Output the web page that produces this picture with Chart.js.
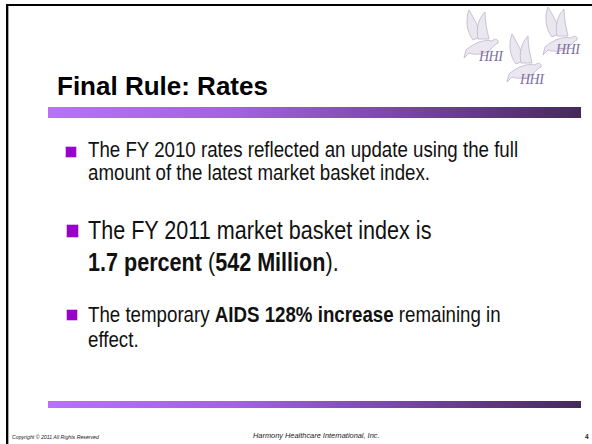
<!DOCTYPE html>
<html>
<head>
<meta charset="utf-8">
<script src="https://cdn.jsdelivr.net/npm/chart.js@4.4.0/dist/chart.umd.min.js"></script>
<style>
  html, body { margin: 0; padding: 0; background: #fff; }
  #slide { position: relative; width: 592px; height: 444px; overflow: hidden; background: #fff; }
  .frame-top { position: absolute; left: 6px; top: 4px; width: 600px; height: 2px; background: #000; }
  .frame-left { position: absolute; left: 6px; top: 4px; width: 2px; height: 460px; background: #000; }
  .frame-left2 { position: absolute; left: 8px; top: 6px; width: 1px; height: 460px; background: #aaa; }
  .title { position: absolute; left: 57px; top: 71px; font: bold 26px/30px "Liberation Sans", Arial, sans-serif; color: #000; white-space: nowrap; }
  .rule { position: absolute; left: 48px; }
  .item { position: absolute; left: 88px; color: #111; white-space: nowrap; transform-origin: 0 0;
          font-family: "Liberation Sans", Arial, sans-serif; }
  .item b { font-weight: bold; }
  .sq { position: absolute; background: #9900cc; box-shadow: 0 0 0 0.5px #c070e0; }
  .foot { position: absolute; font-family: "Liberation Sans", Arial, sans-serif; font-style: italic; color: #222; white-space: nowrap; }
  .logo { position: absolute; font-family: "Liberation Serif", "DejaVu Serif", serif; font-style: italic; color: #7d6fa0; font-size: 14px; letter-spacing: -0.5px; }
</style>
</head>
<body>
<div id="slide">
  <div class="frame-top"></div>
  <div class="frame-left"></div>
  <div class="frame-left2"></div>

  <svg style="position:absolute;left:0;top:0" width="592" height="100">
    <defs>
      <g id="dove" fill="#ebe7f1" stroke="#bdb5cc" stroke-width="0.8">
        <path d="M9 32 C3 24 1 13 5 2 C10 10 14 19 18 28 Z"/>
        <path d="M14 31 C12 21 14 11 21 4 C21 14 23 22 25 31 Z"/>
        <path d="M2 42 C10 35 20 31 28 33 C31 30 35 31 34 35 C31 36 29 39 26 42 C20 47 10 47 5 45 L0 50 Z"/>
      </g>
    </defs>
    <use href="#dove" x="464" y="8"/>
    <use href="#dove" x="507" y="32"/>
    <use href="#dove" x="543" y="5"/>
  </svg>
  <div class="logo" style="left:479px;top:49px">HHI</div>
  <div class="logo" style="left:520px;top:72px">HHI</div>
  <div class="logo" style="left:556px;top:42px">HHI</div>

  <div class="title">Final Rule: Rates</div>
  <canvas id="ruleTop" class="rule" style="top:107px" width="533" height="11"></canvas>

  <div class="sq" style="left:66px;top:147px;width:10px;height:10px"></div>
  <div class="item" style="top:138px;font-size:22px;line-height:23px;transform:scaleX(0.85)">The FY 2010 rates reflected an update using the full<br>amount of the latest market basket index.</div>

  <div class="sq" style="left:67px;top:225px;width:11px;height:12px"></div>
  <div class="item" style="top:214px;font-size:26px;line-height:32px;transform:scaleX(0.83)">The FY 2011 market basket index is<br><b>1.7 percent</b> (<b>542 Million</b>).</div>

  <div class="sq" style="left:67px;top:310px;width:10px;height:10px"></div>
  <div class="item" style="top:302px;font-size:22px;line-height:25px;transform:scaleX(0.85)">The temporary <b>AIDS 128% increase</b> remaining in<br>effect.</div>

  <canvas id="ruleBottom" class="rule" style="top:401px" width="533" height="7"></canvas>

  <div class="foot" style="left:12px;top:434px;font-size:5.2px">Copyright &copy; 2011 All Rights Reserved</div>
  <div class="foot" style="left:253px;top:431px;font-size:7.4px">Harmony Healthcare International, Inc.</div>
  <div class="foot" style="left:585px;top:433px;font-size:6.5px;font-style:normal;font-weight:bold">4</div>
</div>

<script>
// Horizontal rules drawn as single full-width bars
var ruleLabels = ['rule'];
var ruleValues = [1];
var gradientStops = [
  [0, '#b672fa'],
  [0.35, '#a262e2'],
  [0.65, '#7b47a8'],
  [1, '#45295a']
];

function ruleFill(ctx) {
  var area = ctx.chart.chartArea;
  if (!area) return gradientStops[0][1];
  var g = ctx.chart.ctx.createLinearGradient(area.left, 0, area.right, 0);
  gradientStops.forEach(function(s) { g.addColorStop(s[0], s[1]); });
  return g;
}

function drawRule(id) {
  var el = document.getElementById(id);
  return new Chart(el, {
    type: 'bar',
    data: {
      labels: ruleLabels,
      datasets: [{
        data: ruleValues,
        backgroundColor: ruleFill,
        borderWidth: 0,
        barPercentage: 1,
        categoryPercentage: 1
      }]
    },
    options: {
      indexAxis: 'y',
      responsive: false,
      animation: false,
      layout: { padding: 0 },
      plugins: { legend: { display: false }, tooltip: { enabled: false } },
      scales: {
        x: { display: false, min: 0, max: 1 },
        y: { display: false }
      }
    }
  });
}

drawRule('ruleTop');
drawRule('ruleBottom');
</script>
</body>
</html>
